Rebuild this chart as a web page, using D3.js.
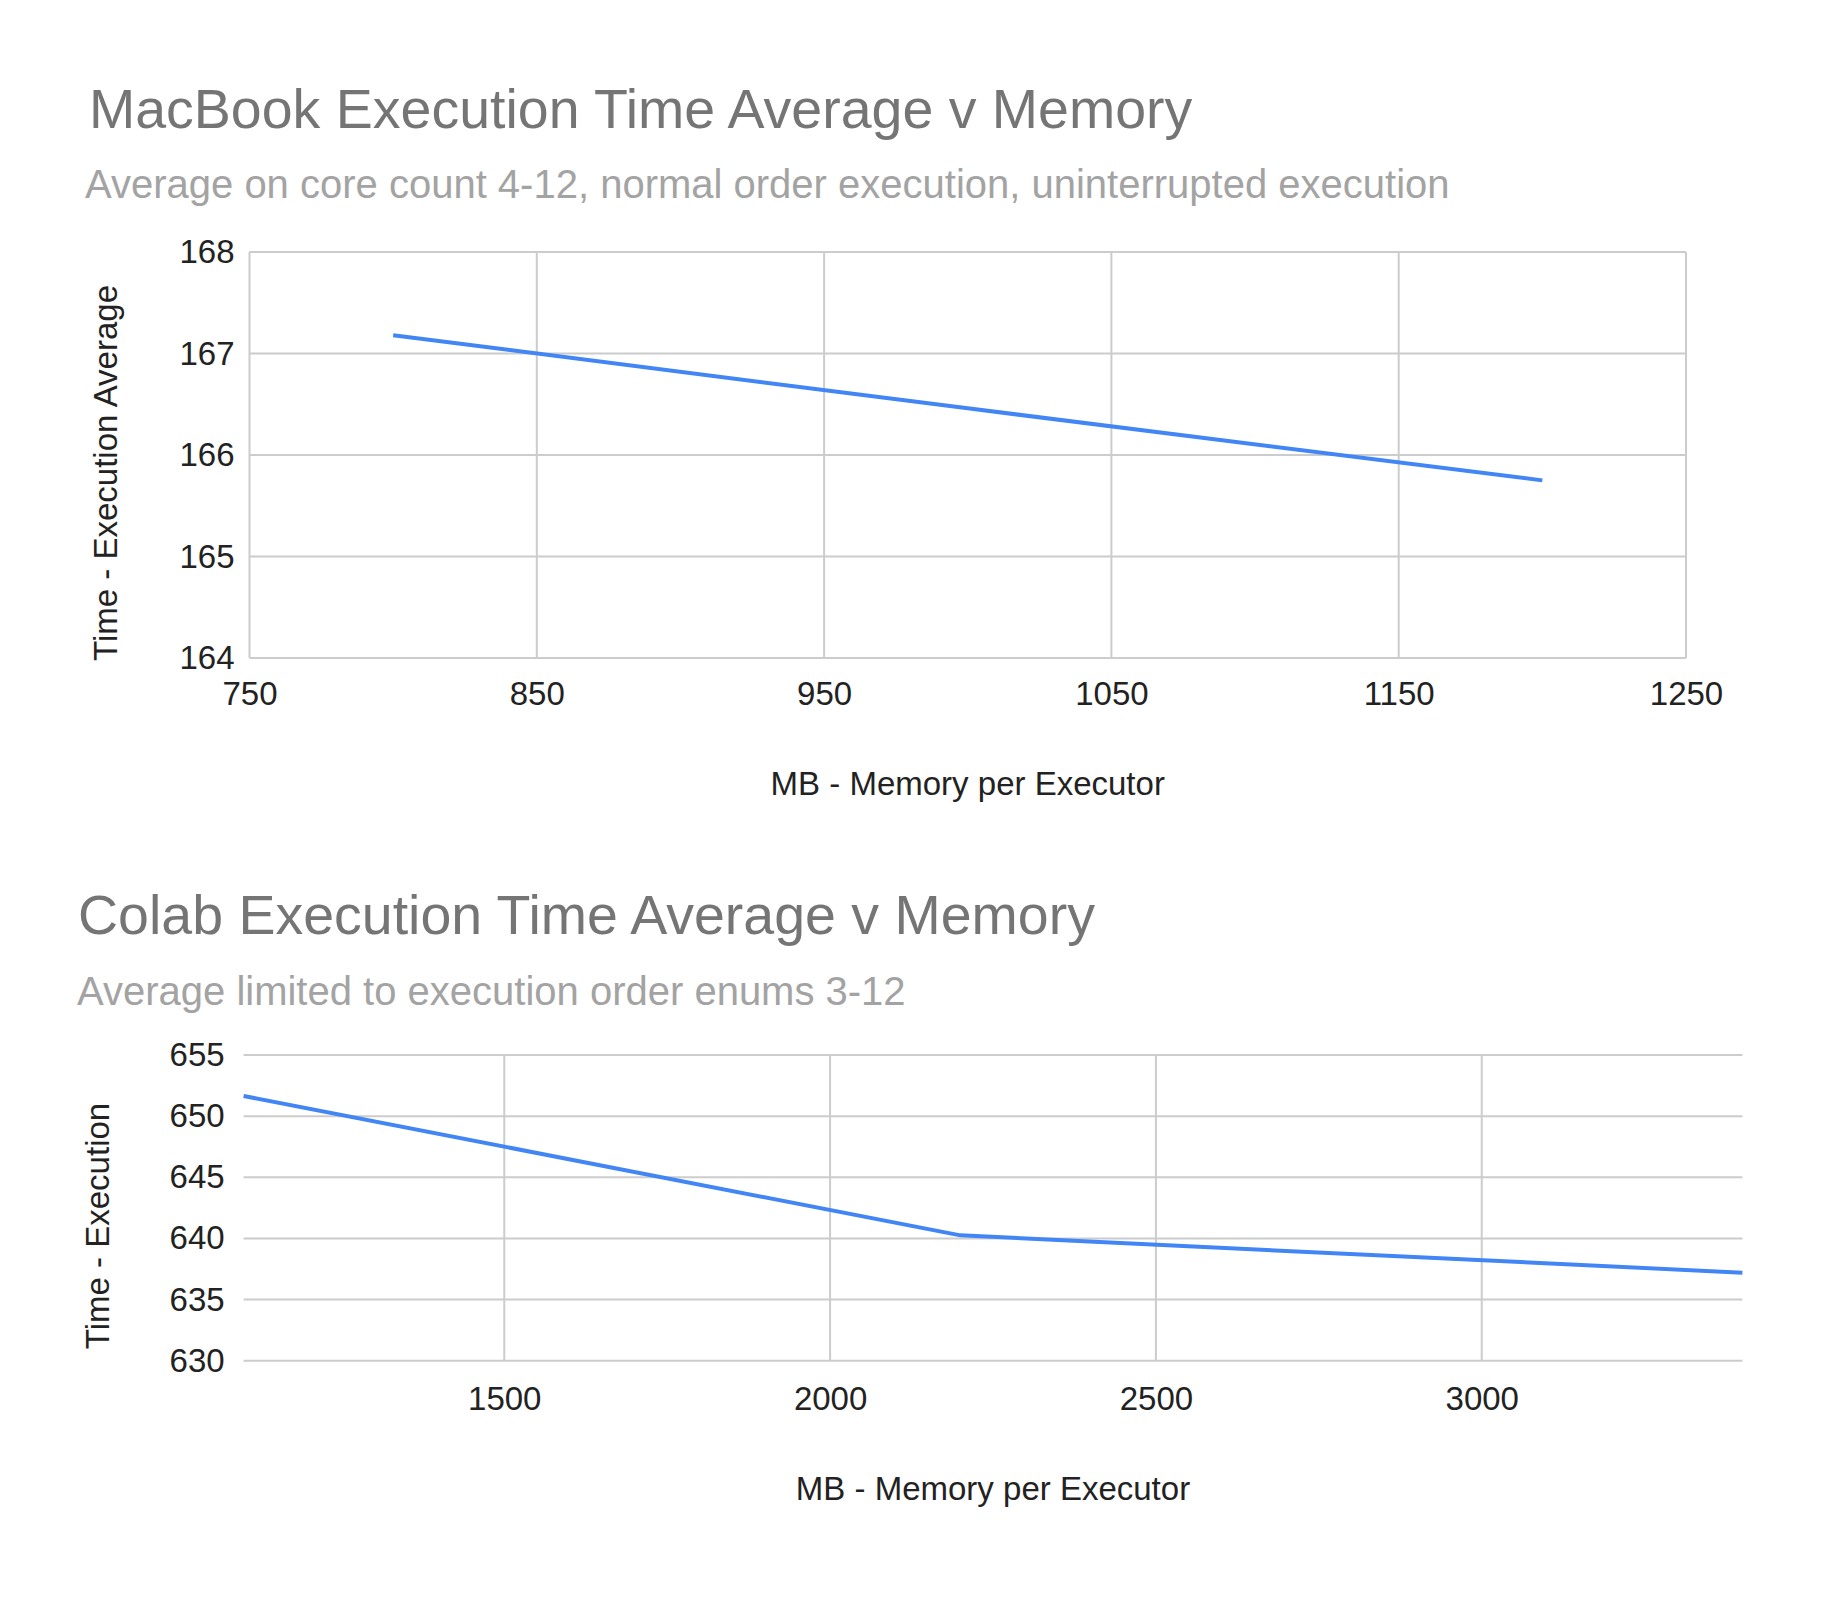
<!DOCTYPE html>
<html><head><meta charset="utf-8">
<script src="https://cdn.jsdelivr.net/npm/d3@7"></script>
<style>
html,body{margin:0;padding:0;background:#fff;}
text{font-family:"Liberation Sans",Arial,sans-serif;}
</style></head>
<body><svg id="c" width="1836" height="1602"></svg>
<script>
// ---- Data: chart 1 (MacBook) ----
const macTitle = "MacBook Execution Time Average v Memory";
const macSubtitle = "Average on core count 4-12, normal order execution, uninterrupted execution";
const macMemory = [800, 1000, 1200];
const macTime = [167.18, 166.46, 165.75];
const macXTicks = [750, 850, 950, 1050, 1150, 1250];
const macYTicks = [164, 165, 166, 167, 168];

// ---- Data: chart 2 (Colab) ----
const colabTitle = "Colab Execution Time Average v Memory";
const colabSubtitle = "Average limited to execution order enums 3-12";
const colabMemory = [1100, 2200, 3400];
const colabTime = [651.65, 640.25, 637.2];
const colabXTicks = [1500, 2000, 2500, 3000];
const colabYTicks = [630, 635, 640, 645, 650, 655];

const xTitle = "MB - Memory per Executor";
const macYTitle = "Time - Execution Average";
const colabYTitle = "Time - Execution";

const svg = d3.select("#c");
svg.append("rect").attr("width",1836).attr("height",1602).attr("fill","#fff");

function drawChart(cfg){
  const g = svg.append("g");
  const x = d3.scaleLinear().domain(cfg.xDomain).range([cfg.left, cfg.right]);
  const y = d3.scaleLinear().domain(cfg.yDomain).range([cfg.bottom, cfg.top]);

  g.append("text").attr("x", cfg.titleX).attr("y", cfg.titleY)
    .attr("font-size", 55.5).attr("fill", "#757575").text(cfg.title);
  g.append("text").attr("x", cfg.subX).attr("y", cfg.subY)
    .attr("font-size", 40).attr("fill", "#a3a3a3").text(cfg.subtitle);

  // horizontal grid
  g.append("g").selectAll("line").data(cfg.yTicks).join("line")
    .attr("x1", cfg.left).attr("x2", cfg.right)
    .attr("y1", d => y(d)).attr("y2", d => y(d))
    .attr("stroke", "#cccccc").attr("stroke-width", 2);
  // vertical grid
  g.append("g").selectAll("line").data(cfg.xGrid).join("line")
    .attr("x1", d => x(d)).attr("x2", d => x(d))
    .attr("y1", cfg.top).attr("y2", cfg.bottom)
    .attr("stroke", "#cccccc").attr("stroke-width", 2);

  // y tick labels
  const yAxis = d3.axisLeft(y).tickValues(cfg.yTicks).tickSize(0).tickPadding(cfg.yPad).tickFormat(d3.format("d"));
  const ya = g.append("g").attr("transform", `translate(${cfg.left},0)`).call(yAxis);
  ya.select(".domain").remove();
  ya.selectAll("text").attr("font-size", 33).attr("fill", "#222")
    .attr("font-family", '"Liberation Sans",Arial,sans-serif');

  // x tick labels
  const xAxis = d3.axisBottom(x).tickValues(cfg.xTicks).tickSize(0).tickPadding(cfg.xPad).tickFormat(d3.format("d"));
  const xa = g.append("g").attr("transform", `translate(0,${cfg.bottom})`).call(xAxis);
  xa.select(".domain").remove();
  xa.selectAll("text").attr("font-size", 33).attr("fill", "#222")
    .attr("font-family", '"Liberation Sans",Arial,sans-serif');

  // axis titles
  g.append("text").attr("x", (cfg.left + cfg.right) / 2).attr("y", cfg.xTitleY)
    .attr("text-anchor", "middle").attr("font-size", 33).attr("fill", "#222").text(xTitle);
  g.append("text").attr("transform", `translate(${cfg.yTitleX},${cfg.yTitleCY}) rotate(-90)`)
    .attr("text-anchor", "middle").attr("font-size", 33).attr("fill", "#222").text(cfg.yTitle);

  // line
  const pts = cfg.xs.map((v, i) => [v, cfg.ys[i]]);
  g.append("path").datum(pts)
    .attr("d", d3.line().x(d => x(d[0])).y(d => y(d[1])))
    .attr("fill", "none").attr("stroke", "#4285f4").attr("stroke-width", 4)
    .attr("stroke-linejoin", "round");
}

drawChart({
  title: macTitle, subtitle: macSubtitle, titleX: 89, titleY: 128, subX: 85, subY: 198,
  xDomain: [750, 1250], yDomain: [164, 168],
  left: 249.5, right: 1686, top: 252, bottom: 658,
  xTicks: macXTicks, xGrid: macXTicks, yTicks: macYTicks,
  yPad: 15, xPad: 24, xTitleY: 795, yTitleX: 117, yTitleCY: 473,
  yTitle: macYTitle, xs: macMemory, ys: macTime
});

drawChart({
  title: colabTitle, subtitle: colabSubtitle, titleX: 78, titleY: 934, subX: 77, subY: 1005,
  xDomain: [1100, 3400], yDomain: [630, 655],
  left: 243.6, right: 1742.4, top: 1055, bottom: 1360.7,
  xTicks: colabXTicks, xGrid: colabXTicks, yTicks: colabYTicks,
  yPad: 19, xPad: 26, xTitleY: 1500, yTitleX: 109, yTitleCY: 1226,
  yTitle: colabYTitle, xs: colabMemory, ys: colabTime
});
</script></body></html>
